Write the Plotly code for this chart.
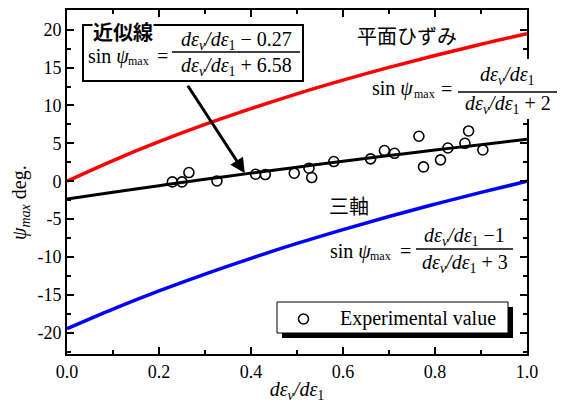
import plotly.graph_objects as go

# ---------------- data ----------------
curve_x = [0.0, 0.1, 0.2, 0.3, 0.4, 0.5, 0.6, 0.7, 0.8, 0.9, 1.0]
plane_strain_deg = [0.0, 2.73, 5.22, 7.50, 9.59, 11.54, 13.34, 15.03, 16.60, 18.08, 19.47]
triaxial_deg = [-19.47, -16.88, -14.48, -12.25, -10.17, -8.21, -6.38, -4.65, -3.02, -1.47, 0.0]
approx_deg = [-2.35, -1.46, -0.59, 0.25, 1.07, 1.86, 2.63, 3.39, 4.12, 4.83, 5.53]

exp_x = [0.229, 0.250, 0.265, 0.326, 0.410, 0.431, 0.494, 0.526, 0.532, 0.580,
         0.660, 0.690, 0.712, 0.765, 0.775, 0.812, 0.828, 0.865, 0.873, 0.904]
exp_y = [-0.09, -0.09, 1.15, 0.04, 0.92, 0.88, 1.06, 1.72, 0.49, 2.60,
         2.95, 4.05, 3.69, 5.94, 1.89, 2.82, 4.39, 5.01, 6.64, 4.13]

x_ticks = [0.0, 0.2, 0.4, 0.6, 0.8, 1.0]
x_tick_labels = ["0.0", "0.2", "0.4", "0.6", "0.8", "1.0"]
y_ticks = [-20, -15, -10, -5, 0, 5, 10, 15, 20]
y_tick_labels = ["-20", "-15", "-10", "-5", "0", "5", "10", "15", "20"]

# ---------------- layout helpers ----------------
W, H = 571, 403
L, R, T, B = 67, 527, 10, 354
SERIF = "Liberation Serif"
JP = "Noto Sans CJK JP"


def px(x):
    return (x - L) / (R - L)


def py(y):
    return (B - y) / (B - T)


fig = go.Figure()

fig.add_trace(go.Scatter(x=curve_x, y=plane_strain_deg, mode="lines", line=dict(color="#ff0000", width=3.5, shape="spline"),
                         name="平面ひずみ", showlegend=False, hoverinfo="skip"))
fig.add_trace(go.Scatter(x=curve_x, y=triaxial_deg, mode="lines", line=dict(color="#0000ff", width=3.5, shape="spline"),
                         name="三軸", showlegend=False, hoverinfo="skip"))
fig.add_trace(go.Scatter(x=exp_x, y=exp_y, mode="markers",
                         marker=dict(symbol="circle-open", size=10, color="black", line=dict(width=1.6, color="black")),
                         name="Experimental value", showlegend=False))
fig.add_trace(go.Scatter(x=curve_x, y=approx_deg, mode="lines", line=dict(color="black", width=3, shape="spline"),
                         name="近似線", showlegend=False, hoverinfo="skip"))

shapes = []
annotations = []


def text(x, y, s, size=20, font=SERIF, xanchor="center", color="black", angle=0):
    annotations.append(dict(x=px(x), y=py(y), xref="paper", yref="paper", text=s, showarrow=False,
                            xanchor=xanchor, yanchor="middle", textangle=angle,
                            font=dict(family=font, size=size, color=color)))


def hline(x0, x1, y, w=1.3):
    shapes.append(dict(type="line", xref="paper", yref="paper", x0=px(x0), x1=px(x1), y0=py(y), y1=py(y),
                       line=dict(color="black", width=w), layer="above"))


def formula(x_sin, y_mid, x_max, x_eq, num, den, x_frac0, x_frac1, y_num, y_line, y_den, size=20):
    text(x_sin, y_mid, "sin <i>ψ</i>", size=size, xanchor="left")
    text(x_max, y_mid + 5, "max", size=12)
    text(x_eq, y_mid, "=", size=size)
    xc = (x_frac0 + x_frac1) / 2
    text(xc, y_num, num, size=size)
    hline(x_frac0, x_frac1, y_line)
    text(xc, y_den, den, size=size)


DE = "<i>dε</i><sub><i>v</i></sub><i>/dε</i><sub>1</sub>"

# approximate-line box
shapes.append(dict(type="rect", xref="paper", yref="paper", x0=px(83), x1=px(303), y0=py(81), y1=py(25),
                   line=dict(color="black", width=2), fillcolor="white", layer="above"))
annotations.append(dict(x=px(92), y=py(31), xref="paper", yref="paper", text="<b>近似線</b>", showarrow=False,
                        xanchor="left", yanchor="middle", bgcolor="white", borderpad=0,
                        font=dict(family=JP, size=20, color="black")))
formula(86, 56, 138, 162, DE + " − 0.27", DE + " + 6.58", 172, 300, 40, 52, 67)

# arrow
annotations.append(dict(x=0.3866, y=1.05, xref="x", yref="y", text="", showarrow=True, arrowhead=2, arrowsize=1,
                        arrowwidth=3, arrowcolor="black", ax=-58, ay=-89, axref="pixel", ayref="pixel"))

# plane strain
text(355, 35, "平面ひずみ", size=20, font=JP, xanchor="left")
shapes.append(dict(type="rect", xref="paper", yref="paper", x0=px(455), x1=px(565), y0=py(119), y1=py(59),
                   line=dict(width=0), fillcolor="white", layer="above"))
formula(370, 89, 424, 446, DE, DE + " + 2", 458, 557, 75, 92, 104)

# triaxial
text(327, 205, "三軸", size=20, font=JP, xanchor="left")
formula(328, 251, 380, 405, DE + " −1", DE + " + 3", 416, 513, 236, 249, 263)

# legend (drawn manually with shadow)
shapes.append(dict(type="rect", xref="paper", yref="paper", x0=px(282), x1=px(513), y0=py(338), y1=py(307),
                   line=dict(color="black", width=0), fillcolor="black", layer="above"))
shapes.append(dict(type="rect", xref="paper", yref="paper", x0=px(277), x1=px(508), y0=py(333), y1=py(302),
                   line=dict(color="black", width=1), fillcolor="white", layer="above"))
shapes.append(dict(type="circle", xref="paper", yref="paper", x0=px(298.5), x1=px(308.5), y0=py(324), y1=py(314),
                   line=dict(color="black", width=1.6), fillcolor="rgba(0,0,0,0)", layer="above"))
text(338, 318, "Experimental value", size=20, xanchor="left")

# y-axis title
text(20, 203, "<i>ψ</i><sub><i>max</i></sub> deg.", size=20, angle=-90)

axis_common = dict(showline=True, linecolor="black", linewidth=2, mirror="allticks", ticks="inside",
                   ticklen=7, tickwidth=1.5, tickcolor="black", showgrid=False, zeroline=False,
                   automargin=False,
                   tickfont=dict(family=SERIF, size=18, color="black"))

fig.update_layout(
    width=W, height=H, margin=dict(l=L, r=W - R, t=T, b=H - B, autoexpand=False),
    paper_bgcolor="white", plot_bgcolor="white", showlegend=False,
    font=dict(family=SERIF, color="black"),
    shapes=shapes, annotations=annotations,
    xaxis=dict(range=[0, 1], tickvals=x_ticks, ticktext=x_tick_labels,
               minor=dict(dtick=0.1, ticks="inside", ticklen=4, tickcolor="black", tickwidth=1.5),
               title=dict(text="<i>dε</i><sub><i>v</i></sub><i>/dε</i><sub>1</sub>", standoff=4,
                          font=dict(family=SERIF, size=20, color="black")),
               **axis_common),
    yaxis=dict(range=[-22.8, 22.6], tickvals=y_ticks, ticktext=y_tick_labels,
               minor=dict(dtick=2.5, tick0=0, ticks="inside", ticklen=4, tickcolor="black", tickwidth=1.5),
               **axis_common),
)

fig.write_html("out.html", config={"displayModeBar": False},
               post_script="document.body.style.margin='0';document.body.style.padding='0';")
